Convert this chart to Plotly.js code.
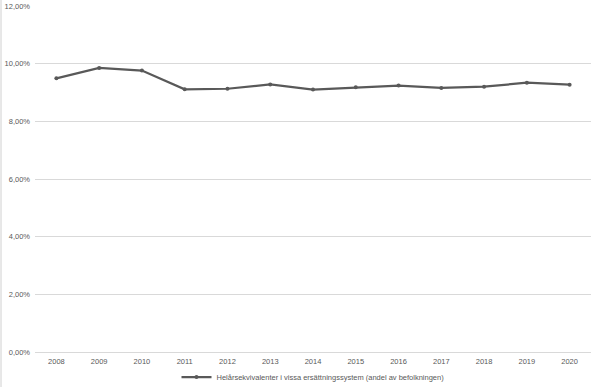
<!DOCTYPE html>
<html>
<head>
<meta charset="utf-8">
<script src="https://cdn.plot.ly/plotly-3.0.1.min.js"></script>
<style>html,body{margin:0;padding:0;background:#fff;}#chart{width:600px;height:387px;}</style>
</head>
<body>
<div id="chart"></div>
<script>
const years = ["2008","2009","2010","2011","2012","2013","2014","2015","2016","2017","2018","2019","2020"];
const shareValues = [9.49, 9.85, 9.76, 9.11, 9.13, 9.28, 9.10, 9.18, 9.24, 9.16, 9.20, 9.34, 9.27];
const seriesName = "Helårsekvivalenter i vissa ersättningssystem (andel av befolkningen)";
const yTicks = [0, 2, 4, 6, 8, 10, 12];
const yTickText = yTicks.map(v => v.toFixed(2).replace(".", ",") + "%");

const ML = 35, MR = 9, MT = 6, MB = 35, W = 600, H = 387;
const plotW = W - ML - MR;
const plotH = H - MT - MB;

const trace = {
  x: years,
  y: shareValues,
  type: "scatter",
  mode: "lines+markers",
  name: seriesName,
  line: {color: "#595959", width: 2.25},
  marker: {color: "#595959", size: 4}
};

const layout = {
  width: W,
  height: H,
  margin: {l: ML, r: MR, t: MT, b: MB, autoexpand: false},
  paper_bgcolor: "#ffffff",
  plot_bgcolor: "#ffffff",
  font: {family: "Liberation Sans, Arial, sans-serif", size: 7.5, color: "#595959"},
  showlegend: true,
  legend: {
    orientation: "h",
    xref: "paper",
    x: 0.5, xanchor: "center",
    yref: "container",
    y: 10 / H, yanchor: "middle",
    bgcolor: "rgba(0,0,0,0)",
    font: {size: 7.5, color: "#595959"},
    itemwidth: 30
  },
  xaxis: {
    type: "category",
    range: [-0.5, years.length - 0.5],
    showgrid: false,
    zeroline: false,
    showline: false,
    ticks: "",
    ticklabelstandoff: 3,
    tickfont: {size: 7.5, color: "#595959"},
    automargin: false,
    fixedrange: true
  },
  yaxis: {
    range: [0, 12],
    tickmode: "array",
    tickvals: yTicks,
    ticktext: yTickText,
    showgrid: true,
    gridcolor: "#d9d9d9",
    gridwidth: 1,
    zeroline: true,
    zerolinecolor: "#d9d9d9",
    zerolinewidth: 1,
    showline: false,
    ticks: "",
    ticklabelstandoff: 4,
    tickfont: {size: 7.5, color: "#595959"},
    automargin: false,
    fixedrange: true
  },
  shapes: [{
    type: "line",
    xref: "paper", yref: "paper",
    x0: -(ML - 1) / plotW, x1: -(ML - 1) / plotW,
    y0: -MB / plotH, y1: 1 + MT / plotH,
    line: {color: "#d0d0d0", width: 1}
  }]
};

Plotly.newPlot("chart", [trace], layout, {displayModeBar: false, staticPlot: true});
</script>
</body>
</html>
